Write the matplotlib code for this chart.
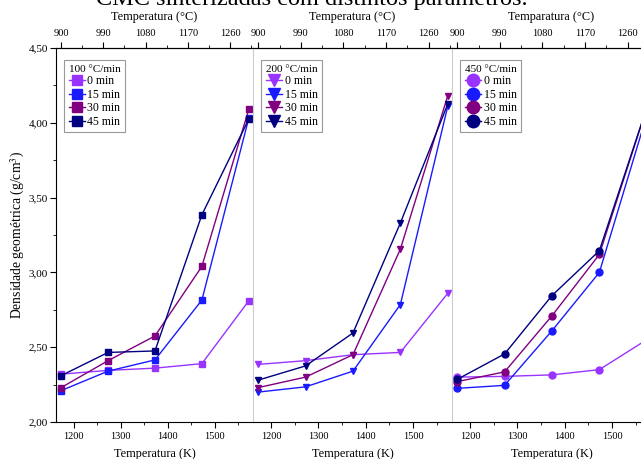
import matplotlib.pyplot as plt
from matplotlib.ticker import MultipleLocator, FixedLocator, FuncFormatter

plt.rcParams['font.family'] = ['Liberation Serif', 'DejaVu Serif']
plt.rcParams['mathtext.fontset'] = 'stix'

# temperatura de sinterizacao (K)
temp_k = [1173, 1273, 1373, 1473, 1573]
tempos = ['0 min', '15 min', '30 min', '45 min']
taxas = ['100 °C/min', '200 °C/min', '450 °C/min']
top_labels = ['Temperatura (°C)', 'Temperatura (°C)', 'Temparatura (°C)']

# densidade geometrica (g/cm3) - 100 °C/min
r100_0 = [2.32, 2.345, 2.36, 2.39, 2.81]
r100_15 = [2.21, 2.34, 2.415, 2.815, 4.03]
r100_30 = [2.23, 2.41, 2.575, 3.04, 4.09]
r100_45 = [2.31, 2.465, 2.475, 3.385, 4.025]

# 200 °C/min
r200_0 = [2.385, 2.41, 2.45, 2.465, 2.86]
r200_15 = [2.20, 2.235, 2.34, 2.785, 4.11]
r200_30 = [2.23, 2.30, 2.45, 3.155, 4.18]
r200_45 = [2.28, 2.375, 2.595, 3.33, 4.125]

# 450 °C/min
r450_0 = [2.30, 2.305, 2.315, 2.35, 2.55]
r450_15 = [2.225, 2.245, 2.61, 3.00, 4.05]
r450_30 = [2.27, 2.335, 2.71, 3.12, 4.10]
r450_45 = [2.285, 2.455, 2.845, 3.145, 4.10]

dados = [[r100_0, r100_15, r100_30, r100_45],
         [r200_0, r200_15, r200_30, r200_45],
         [r450_0, r450_15, r450_30, r450_45]]
cores = ['#9933FF', '#1A1AFF', '#800080', '#000080']
marcadores = ['s', 'v', 'o']
tam = [4, 5, 5]

fig = plt.figure(figsize=(6.41, 4.59), dpi=100)
W, H = 641, 459
lefts = [56, 253, 452]
larg = [197, 199, 199]
bottom = 1 - 422 / H
altura = 374 / H

fig.text(312 / W, 1 - 5 / H, 'CMC sinterizadas com distintos parâmetros.',
         ha='center', va='baseline', fontsize=17.5)

for i in range(3):
    ax = fig.add_axes([lefts[i] / W, bottom, larg[i] / W, altura])
    for j in range(4):
        ax.plot(temp_k, dados[i][j], color=cores[j], marker=marcadores[i],
                markersize=tam[i], linewidth=1.0, label=tempos[j])
    ax.set_xlim(1162, 1582)
    ax.set_ylim(2.0, 4.5)
    ax.xaxis.set_major_locator(MultipleLocator(100))
    ax.xaxis.set_minor_locator(MultipleLocator(50))
    ax.tick_params(axis='x', which='both', direction='out', labelsize=7.5,
                   top=False, pad=3)
    ax.tick_params(axis='x', which='major', length=4)
    ax.tick_params(axis='x', which='minor', length=2)
    ax.set_xlabel('Temperatura (K)', fontsize=8.8, labelpad=5)

    sec = ax.secondary_xaxis('top', functions=(lambda k: k - 273, lambda c: c + 273))
    sec.xaxis.set_major_locator(FixedLocator([900, 990, 1080, 1170, 1260]))
    sec.xaxis.set_minor_locator(MultipleLocator(45))
    sec.tick_params(which='both', direction='out', labelsize=7.5, pad=3)
    sec.tick_params(which='major', length=4)
    sec.tick_params(which='minor', length=2)
    sec.set_xlabel(top_labels[i], fontsize=8.8, labelpad=7)

    ax.spines['right'].set_visible(False)
    if i == 0:
        ax.yaxis.set_major_locator(MultipleLocator(0.5))
        ax.yaxis.set_minor_locator(MultipleLocator(0.25))
        ax.yaxis.set_major_formatter(FuncFormatter(lambda v, p: f'{v:.2f}'.replace('.', ',')))
        ax.tick_params(axis='y', which='both', direction='out', labelsize=8, pad=2)
        ax.tick_params(axis='y', which='major', length=4)
        ax.tick_params(axis='y', which='minor', length=2)
        ax.set_ylabel('Densidade geométrica (g/cm$^3$)', fontsize=9.8, labelpad=1)
    else:
        ax.tick_params(axis='y', which='both', left=False, labelleft=False)
        ax.spines['left'].set_color('#cccccc')

    leg = ax.legend(title=taxas[i], loc='upper left', fontsize=8.5,
                    title_fontsize=8, markerscale=1.8, handlelength=1.35,
                    handletextpad=0.25, labelspacing=0.12, borderpad=0.4,
                    borderaxespad=0, bbox_to_anchor=(0.04, 0.967),
                    fancybox=False, edgecolor='#999999', framealpha=1)
    leg._legend_box.align = 'left'
    leg.get_frame().set_linewidth(0.8)

fig.savefig('out.png', dpi=100)
